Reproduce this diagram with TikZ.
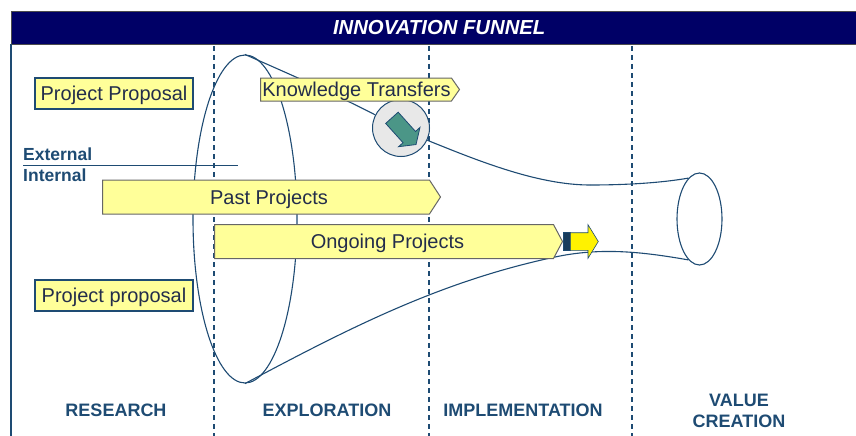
\documentclass[tikz,border=0pt]{standalone}
\usepackage{fontspec}
\setmainfont{Liberation Sans}
\usepackage{tikz}
\usetikzlibrary{shapes.geometric,shapes.symbols,shapes.arrows}

\definecolor{navy}{RGB}{0,0,102}
\definecolor{edgeblue}{RGB}{30,75,115}
\definecolor{darktext}{RGB}{35,45,75}
\definecolor{paleyellow}{RGB}{255,255,153}
\definecolor{teal1}{RGB}{75,150,135}

\tikzset{
  funnel/.style={draw=edgeblue, line width=1.1pt},
  phase/.style={dash pattern=on 5pt off 4pt, draw=edgeblue, line width=1.1pt},
  proposal/.style={draw=edgeblue, line width=1.2pt, fill=paleyellow, inner sep=0pt, minimum height=31pt, text=darktext, text height=18pt, text depth=4pt, font=\fontsize{20}{22}\selectfont},
  project/.style={signal, signal to=east, draw=gray!80!black, line width=1pt, fill=paleyellow, inner sep=0pt, text=darktext, text height=18pt, text depth=4pt, font=\fontsize{20}{22}\selectfont},
  stage/.style={text=edgeblue, font=\fontsize{18}{21}\selectfont\bfseries, align=center},
  side/.style={text=edgeblue, font=\fontsize{17.5}{19}\selectfont\bfseries, inner sep=0pt}
}

\begin{document}
\begin{tikzpicture}[x=1pt, y=-1pt]
  \useasboundingbox (0,0) rectangle (856,436);
  % frame and title
  \node[fill=navy, draw=black!70, anchor=north west, minimum width=845pt, minimum height=33pt, inner sep=0pt, text=white, font=\fontsize{20.3}{22}\selectfont\bfseries\itshape] (title) at (11,11) {\hspace{11pt}INNOVATION FUNNEL};
  \coordinate (framebottom) at (11,436);
  \draw[edgeblue, line width=1.2pt] (title.south west) -- (framebottom);
  % phases
  \coordinate (a1) at (214,46); \coordinate (a2) at (214,436);
  \coordinate (b1) at (429,46); \coordinate (b2) at (429,436);
  \coordinate (c1) at (632,46); \coordinate (c2) at (632,436);
  \draw[phase] (a1) -- (a2);
  \draw[phase] (b1) -- (b2);
  \draw[phase] (c1) -- (c2);
  % funnel
  \node[funnel, ellipse, minimum width=104pt, minimum height=328pt, inner sep=0pt] (mouth) at (245,219) {};
  \node[funnel, ellipse, minimum width=45pt, minimum height=92pt, inner sep=0pt] (exit) at (699.5,219) {};
  \node[draw=edgeblue, line width=1pt, fill=black!9, circle, minimum size=57pt, inner sep=0pt] (transfer) at (401,128) {};
  \node[single arrow, rotate=-48, fill=teal1, draw=edgeblue, line width=.8pt, minimum height=36pt, minimum width=28pt, single arrow head extend=6pt, single arrow tip angle=110, shape border uses incircle=false, inner xsep=0pt, inner ysep=8pt] (transferarrow) at (402,129) {};
  \coordinate (neck) at (590,185);
  \coordinate (belly) at (555,257);
  \path[funnel]
    (mouth.north) edge[out=-24, in=153] (transfer.153)
    (transfer.-25) edge[out=-22, in=180, looseness=.8] (neck)
    (neck) edge[out=0, in=190, looseness=.8] (exit.105)
    (mouth.south) edge[out=28, in=192, looseness=.9] (belly)
    (belly) edge[out=12, in=170, looseness=.9] (exit.255);
  % labels left
  \node[proposal, minimum width=158pt] (proposal1) at (114,93.5) {Project Proposal};
  \node[proposal, minimum width=158pt] (proposal2) at (114,295.5) {Project proposal};
  \node[side, anchor=west] (external) at (23,154) {External};
  \node[side, anchor=west] (internal) at (23,175) {Internal};
  \coordinate (sidestart) at (23,165);
  \coordinate (sideend) at (238,165);
  \draw[edgeblue, line width=1pt] (sidestart) -- (sideend);
  % arrows
  \node[project, signal pointer angle=114, minimum width=338pt, minimum height=34pt, anchor=west] (past) at (102,197) {\hspace{6pt}Past Projects};
  \node[project, signal pointer angle=124, minimum width=348pt, minimum height=34pt, anchor=west] (ongoing) at (214,241.5) {\hspace{7pt}Ongoing Projects};
  \node[project, signal pointer angle=110, minimum width=199pt, minimum height=23pt, anchor=west] (knowledge) at (260,89.5) {\hspace{1pt}Knowledge Transfers\hspace{-7pt}};
  \node[draw=edgeblue, fill=edgeblue!80!black, minimum width=7pt, minimum height=18pt, inner sep=0pt] (bar) at (566.5,241) {};
  \node[single arrow, fill=yellow, draw=edgeblue, line width=.6pt, minimum height=28pt, minimum width=33pt, single arrow head extend=8pt, shape border uses incircle=false, single arrow tip angle=117, inner xsep=0pt, inner ysep=8.5pt, anchor=west] (next) at (570,241.5) {};
  % stages
  \node[stage] (research) at (116,410) {RESEARCH};
  \node[stage] (exploration) at (327,410) {EXPLORATION};
  \node[stage] (implementation) at (523,410) {IMPLEMENTATION};
  \node[stage] (value) at (739,411) {VALUE\\CREATION};
\end{tikzpicture}
\end{document}
